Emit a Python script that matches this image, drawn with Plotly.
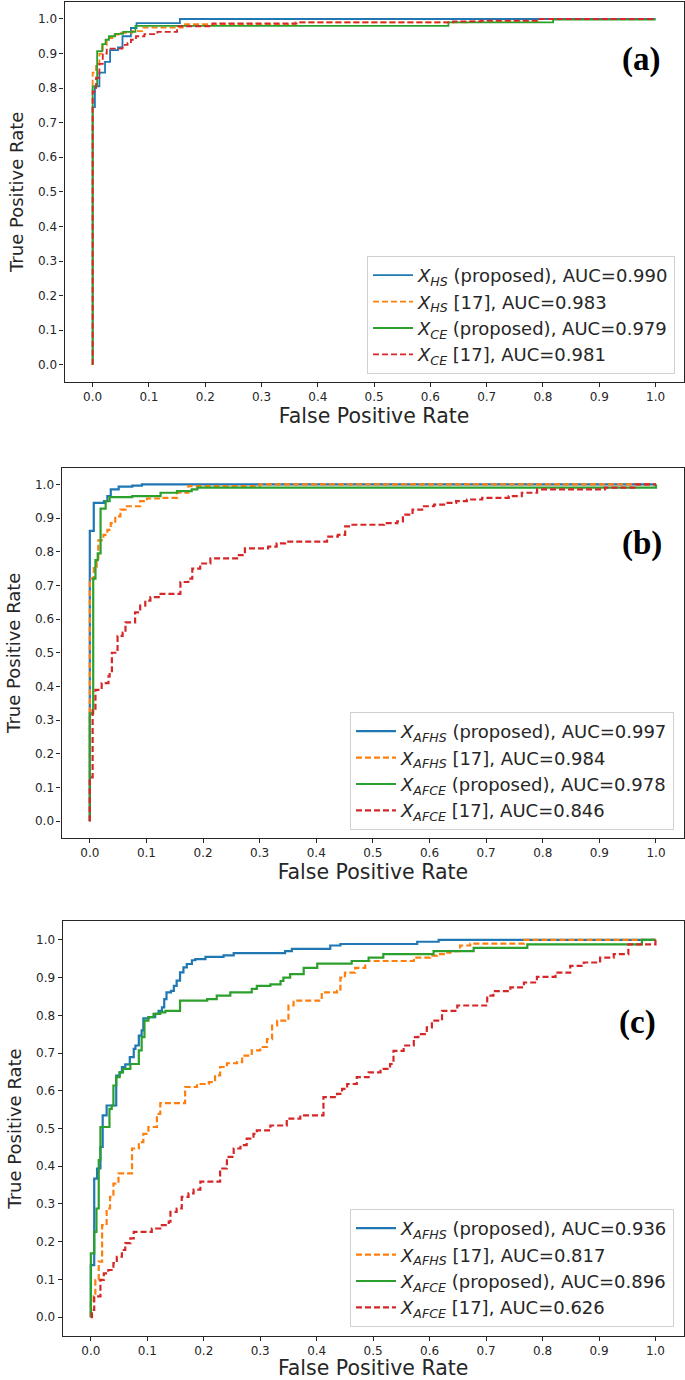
import plotly.graph_objects as go

# ---------------- data ----------------
# Panel (a)
a_hs_prop_fpr = [0, 0, 0.004, 0.012, 0.022, 0.031, 0.045, 0.053, 0.068, 0.078, 0.155, 1.0]
a_hs_prop_tpr = [0, 0.745, 0.805, 0.845, 0.876, 0.91, 0.918, 0.95, 0.974, 0.988, 1.0, 1.0]
a_hs_ref_fpr = [0, 0, 0.006, 0.012, 0.018, 0.025, 0.035, 0.05, 0.07, 0.09, 0.16, 0.36, 0.665, 0.79, 1.0]
a_hs_ref_tpr = [0, 0.845, 0.87, 0.90, 0.925, 0.945, 0.955, 0.96, 0.965, 0.975, 0.985, 0.99, 0.993, 1.0, 1.0]
a_ce_prop_fpr = [0, 0, 0.008, 0.017, 0.023, 0.029, 0.04, 0.054, 0.076, 0.632, 0.818, 1.0]
a_ce_prop_tpr = [0, 0.805, 0.907, 0.927, 0.94, 0.95, 0.957, 0.963, 0.98, 0.99, 0.998, 0.998]
a_ce_ref_fpr = [0, 0, 0.006, 0.012, 0.018, 0.025, 0.053, 0.062, 0.068, 0.077, 0.092, 0.115, 0.15,
                0.213, 0.364, 0.64, 0.69, 0.79, 1.0]
a_ce_ref_tpr = [0, 0.79, 0.83, 0.87, 0.90, 0.914, 0.925, 0.93, 0.94, 0.95, 0.956, 0.963, 0.979,
                0.987, 0.99, 0.993, 0.995, 1.0, 1.0]

# Panel (b)
b_hs_prop_fpr = [0, 0, 0.007, 0.025, 0.031, 0.037, 0.051, 0.075, 0.092, 1.0]
b_hs_prop_tpr = [0, 0.862, 0.945, 0.95, 0.965, 0.985, 0.993, 0.996, 1.0, 1.0]
b_hs_ref_fpr = [0, 0, 0.007, 0.012, 0.015, 0.024, 0.031, 0.037, 0.045, 0.054, 0.063, 0.089, 0.101,
                0.125, 0.154, 0.174, 0.30, 1.0]
b_hs_ref_tpr = [0, 0.72, 0.755, 0.775, 0.834, 0.85, 0.865, 0.885, 0.905, 0.925, 0.935, 0.95, 0.958,
                0.96, 0.975, 0.995, 1.0, 1.0]
b_ce_prop_fpr = [0, 0, 0.006, 0.010, 0.014, 0.019, 0.028, 0.035, 0.075, 0.125, 0.154, 0.18, 0.19, 1.0, 1.0]
b_ce_prop_tpr = [0, 0.32, 0.72, 0.775, 0.795, 0.928, 0.95, 0.962, 0.965, 0.975, 0.98, 0.985, 0.99, 0.99, 1.0]
b_ce_ref_fpr = [0, 0, 0.005, 0.01, 0.021, 0.033, 0.035, 0.039, 0.049, 0.058, 0.063, 0.08, 0.089,
                0.098, 0.107, 0.125, 0.16, 0.174, 0.181, 0.195, 0.213, 0.26, 0.274, 0.315, 0.33,
                0.345, 0.419, 0.438, 0.451, 0.461, 0.52, 0.543, 0.553, 0.57, 0.587, 0.608, 0.628,
                0.647, 0.666, 0.693, 0.74, 0.763, 0.79, 0.91, 0.964, 1.0]
b_ce_ref_tpr = [0, 0.13, 0.33, 0.39, 0.41, 0.43, 0.44, 0.50, 0.55, 0.56, 0.59, 0.62, 0.64,
                0.655, 0.665, 0.675, 0.71, 0.72, 0.75, 0.765, 0.78, 0.79, 0.81, 0.815, 0.825,
                0.83, 0.845, 0.85, 0.875, 0.88, 0.885, 0.89, 0.91, 0.925, 0.935, 0.94, 0.945,
                0.95, 0.955, 0.96, 0.965, 0.975, 0.985, 0.99, 1.0, 1.0]

# Panel (c)
c_hs_prop_fpr = [0, 0, 0.006, 0.011, 0.017, 0.021, 0.028, 0.045, 0.051, 0.055, 0.061, 0.069, 0.076,
                 0.079, 0.085, 0.090, 0.093, 0.102, 0.114, 0.12, 0.126, 0.13, 0.134, 0.142, 0.147,
                 0.152, 0.158, 0.164, 0.17, 0.179, 0.185, 0.203, 0.235, 0.253, 0.344, 0.356, 0.424,
                 0.442, 0.578, 0.616, 1.0]
c_hs_prop_tpr = [0, 0.138, 0.367, 0.394, 0.451, 0.535, 0.561, 0.640, 0.649, 0.663, 0.670, 0.689, 0.711,
                 0.72, 0.746, 0.76, 0.792, 0.795, 0.804, 0.812, 0.821, 0.843, 0.861, 0.865, 0.878,
                 0.892, 0.914, 0.927, 0.936, 0.946, 0.949, 0.955, 0.959, 0.965, 0.97, 0.976, 0.985,
                 0.989, 0.995, 1.0, 1.0]
c_hs_ref_fpr = [0, 0, 0.005, 0.008, 0.014, 0.02, 0.028, 0.034, 0.04, 0.049, 0.073, 0.085, 0.093,
                0.102, 0.117, 0.123, 0.167, 0.188, 0.209, 0.22, 0.229, 0.241, 0.259, 0.268, 0.285,
                0.30, 0.312, 0.321, 0.33, 0.35, 0.359, 0.409, 0.436, 0.442, 0.45, 0.468, 0.486,
                0.572, 0.601, 0.613, 0.625, 0.637, 0.654, 0.672, 0.767, 1.0]
c_hs_ref_tpr = [0, 0.037, 0.055, 0.099, 0.147, 0.244, 0.288, 0.319, 0.354, 0.381, 0.447, 0.464, 0.486,
                0.504, 0.539, 0.567, 0.61, 0.618, 0.623, 0.641, 0.663, 0.673, 0.676, 0.693, 0.707,
                0.716, 0.737, 0.773, 0.786, 0.826, 0.839, 0.861, 0.865, 0.9, 0.913, 0.926, 0.944,
                0.953, 0.958, 0.962, 0.966, 0.97, 0.985, 0.99, 1.0, 1.0]
c_ce_prop_fpr = [0, 0, 0.006, 0.010, 0.014, 0.017, 0.033, 0.037, 0.040, 0.045, 0.051, 0.057, 0.070,
                 0.085, 0.090, 0.095, 0.102, 0.111, 0.123, 0.132, 0.158, 0.206, 0.223, 0.247, 0.285,
                 0.294, 0.318, 0.336, 0.341, 0.353, 0.377, 0.401, 0.462, 0.492, 0.518, 0.607, 0.678,
                 0.773, 0.976, 1.0]
c_ce_prop_tpr = [0, 0.169, 0.226, 0.288, 0.416, 0.504, 0.552, 0.561, 0.614, 0.636, 0.649, 0.658, 0.671,
                 0.707, 0.742, 0.786, 0.795, 0.804, 0.808, 0.812, 0.839, 0.843, 0.852, 0.861, 0.870,
                 0.878, 0.882, 0.891, 0.900, 0.909, 0.926, 0.937, 0.944, 0.953, 0.962, 0.970, 0.979,
                 0.988, 1.0, 1.0]
c_ce_ref_fpr = [0, 0, 0.002, 0.006, 0.017, 0.023, 0.031, 0.040, 0.046, 0.055, 0.061, 0.070, 0.076,
                0.108, 0.123, 0.138, 0.141, 0.152, 0.161, 0.173, 0.182, 0.194, 0.229, 0.241, 0.253,
                0.265, 0.276, 0.288, 0.294, 0.318, 0.347, 0.371, 0.412, 0.436, 0.445, 0.454, 0.471,
                0.492, 0.513, 0.53, 0.536, 0.554, 0.572, 0.58, 0.595, 0.604, 0.622, 0.649, 0.702,
                0.713, 0.743, 0.767, 0.79, 0.823, 0.849, 0.873, 0.902, 0.926, 0.952, 1.0]
c_ce_ref_tpr = [0, 0, 0.019, 0.055, 0.099, 0.116, 0.125, 0.143, 0.160, 0.178, 0.196, 0.209, 0.226,
                0.235, 0.244, 0.253, 0.279, 0.288, 0.319, 0.328, 0.338, 0.359, 0.394, 0.425, 0.447,
                0.456, 0.473, 0.486, 0.495, 0.508, 0.526, 0.535, 0.583, 0.592, 0.605, 0.618, 0.636,
                0.649, 0.658, 0.671, 0.706, 0.72, 0.742, 0.75, 0.768, 0.786, 0.812, 0.826, 0.852,
                0.864, 0.874, 0.887, 0.902, 0.913, 0.931, 0.94, 0.953, 0.962, 0.988, 1.0]

x_tick_vals = [0.0, 0.1, 0.2, 0.3, 0.4, 0.5, 0.6, 0.7, 0.8, 0.9, 1.0]
y_tick_vals = [0.0, 0.1, 0.2, 0.3, 0.4, 0.5, 0.6, 0.7, 0.8, 0.9, 1.0]
panel_tags = ["(a)", "(b)", "(c)"]

names_a = ["<i>X</i><sub><i>HS</i></sub> (proposed), AUC=0.990",
           "<i>X</i><sub><i>HS</i></sub> [17], AUC=0.983",
           "<i>X</i><sub><i>CE</i></sub> (proposed), AUC=0.979",
           "<i>X</i><sub><i>CE</i></sub> [17], AUC=0.981"]
names_b = ["<i>X</i><sub><i>AFHS</i></sub> (proposed), AUC=0.997",
           "<i>X</i><sub><i>AFHS</i></sub> [17], AUC=0.984",
           "<i>X</i><sub><i>AFCE</i></sub> (proposed), AUC=0.978",
           "<i>X</i><sub><i>AFCE</i></sub> [17], AUC=0.846"]
names_c = ["<i>X</i><sub><i>AFHS</i></sub> (proposed), AUC=0.936",
           "<i>X</i><sub><i>AFHS</i></sub> [17], AUC=0.817",
           "<i>X</i><sub><i>AFCE</i></sub> (proposed), AUC=0.896",
           "<i>X</i><sub><i>AFCE</i></sub> [17], AUC=0.626"]

# ---------------- styling ----------------
W, H = 685, 1380
COLORS = ["#1f77b4", "#ff7f0e", "#2ca02c", "#d62728"]
DASHES = ["solid", "6px,3px", "solid", "6px,3px"]
FONT = "DejaVu Sans"

panels = [
    dict(series=[(a_hs_prop_fpr, a_hs_prop_tpr), (a_hs_ref_fpr, a_hs_ref_tpr),
                 (a_ce_prop_fpr, a_ce_prop_tpr), (a_ce_ref_fpr, a_ce_ref_tpr)],
         names=names_a, lw=1.8, xdom=(64.5, 683.7), ydom=(1.7, 382),
         legend=dict(right=675, bottom=374), tag_xy=(641, 60)),
    dict(series=[(b_hs_prop_fpr, b_hs_prop_tpr), (b_hs_ref_fpr, b_hs_ref_tpr),
                 (b_ce_prop_fpr, b_ce_prop_tpr), (b_ce_ref_fpr, b_ce_ref_tpr)],
         names=names_b, lw=2.2, xdom=(61.5, 684.3), ydom=(467.5, 838),
         legend=dict(right=674, bottom=830), tag_xy=(642, 543)),
    dict(series=[(c_hs_prop_fpr, c_hs_prop_tpr), (c_hs_ref_fpr, c_hs_ref_tpr),
                 (c_ce_prop_fpr, c_ce_prop_tpr), (c_ce_ref_fpr, c_ce_ref_tpr)],
         names=names_c, lw=2.2, xdom=(62.6, 683.7), ydom=(921, 1336),
         legend=dict(right=674, bottom=1327), tag_xy=(637, 1022)),
]

fig = go.Figure()
layout = dict(width=W, height=H, margin=dict(l=0, r=0, t=0, b=0),
              paper_bgcolor="white", plot_bgcolor="white",
              font=dict(family=FONT, color="#262626"), annotations=[])

for i, p in enumerate(panels):
    sfx = "" if i == 0 else str(i + 1)
    leg = "legend" if i == 0 else f"legend{i + 1}"
    for k, ((fx, ty), nm) in enumerate(zip(p["series"], p["names"])):
        fig.add_trace(go.Scatter(
            x=fx, y=ty, mode="lines", name=nm, line_shape="hv",
            line=dict(color=COLORS[k], width=p["lw"], dash=DASHES[k]),
            xaxis="x" + sfx, yaxis="y" + sfx, legend=leg, legendgroup=f"g{i}{k}",
            hoverinfo="skip"))
    axcommon = dict(range=[-0.05, 1.05], showgrid=False, zeroline=False,
                    showline=True, mirror=True, linecolor="#262626", linewidth=1.1,
                    ticks="outside", ticklen=4, tickwidth=1, tickcolor="#262626",
                    tickfont=dict(size=12, family=FONT, color="#262626"),
                    tickformat=".1f")
    layout["xaxis" + sfx] = dict(
        axcommon, domain=[p["xdom"][0] / W, p["xdom"][1] / W],
        anchor="y" + sfx, tickvals=x_tick_vals,
        title=dict(text="False Positive Rate", font=dict(size=20.5, family=FONT, color="#262626"),
                   standoff=3))
    layout["yaxis" + sfx] = dict(
        axcommon, domain=[1 - p["ydom"][1] / H, 1 - p["ydom"][0] / H],
        anchor="x" + sfx, tickvals=y_tick_vals,
        title=dict(text="True Positive Rate", font=dict(size=18, family=FONT, color="#262626"),
                   standoff=9))
    layout[leg] = dict(
        x=p["legend"]["right"] / W, y=1 - p["legend"]["bottom"] / H,
        xanchor="right", yanchor="bottom", bgcolor="rgba(255,255,255,0.9)",
        bordercolor="#d0d0d0", borderwidth=1, tracegroupgap=0,
        font=dict(size=18, family=FONT, color="#262626"), itemwidth=40)
    layout["annotations"].append(dict(
        text="<b>" + panel_tags[i] + "</b>", x=p["tag_xy"][0] / W, y=1 - p["tag_xy"][1] / H,
        xref="paper", yref="paper", xanchor="center", yanchor="middle", showarrow=False,
        font=dict(size=33, family="Liberation Serif", color="black")))

fig.update_layout(**layout)
fig.write_html("out.html", config={"displayModeBar": False},
               post_script="document.body.style.margin='0px';document.body.style.overflow='hidden';")
